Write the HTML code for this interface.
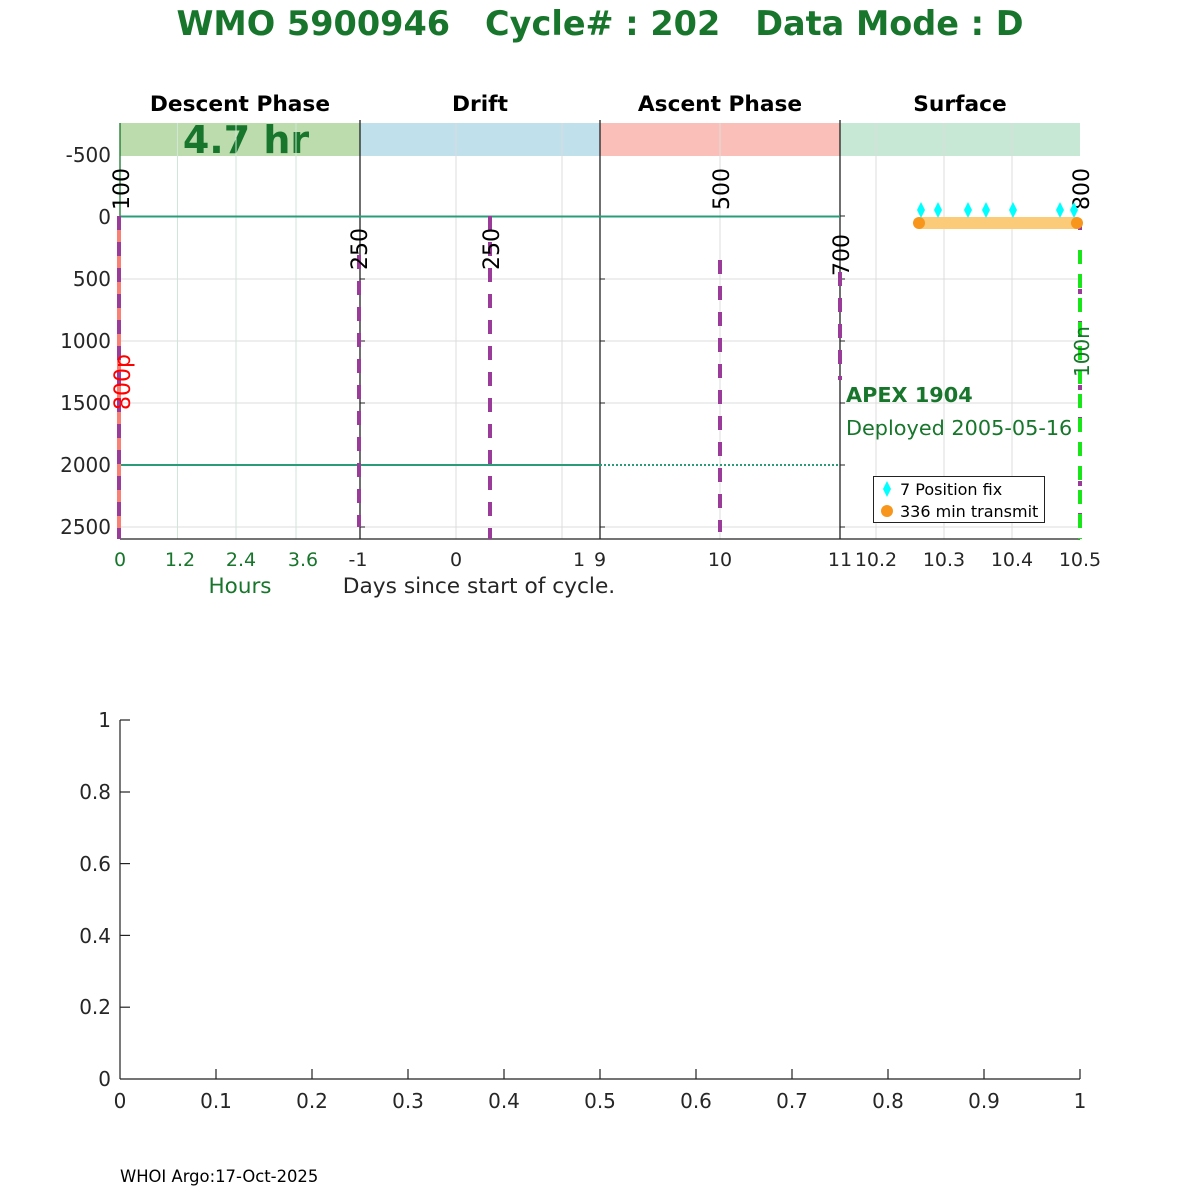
<!DOCTYPE html>
<html><head><meta charset="utf-8"><style>body{margin:0;background:#fff}svg{display:block}</style></head><body>
<svg width="1200" height="1200" xmlns="http://www.w3.org/2000/svg" font-family="DejaVu Sans, Liberation Sans, sans-serif">
<rect width="1200" height="1200" fill="#fff"/>
<text x="600" y="35" text-anchor="middle" font-size="33.5" font-weight="bold" fill="#17762b" xml:space="preserve">WMO 5900946   Cycle# : 202   Data Mode : D</text>
<g font-size="21.7" font-weight="bold" text-anchor="middle" fill="#000">
<text x="240" y="111">Descent Phase</text><text x="480" y="111">Drift</text><text x="720" y="111">Ascent Phase</text><text x="960" y="111">Surface</text></g>
<rect x="120" y="123" width="240" height="33" fill="#bcdcad"/>
<rect x="360" y="123" width="240" height="33" fill="#c0e1eb"/>
<rect x="600" y="123" width="240" height="33" fill="#fbbfb9"/>
<rect x="840" y="123" width="240" height="33" fill="#c8e8d6"/>
<text x="246" y="153" text-anchor="middle" font-size="38" font-weight="bold" fill="#17762b">4.7 hr</text>
<g stroke="#dcdcdc" stroke-width="1">
<line x1="120" y1="279" x2="1080" y2="279"/><line x1="120" y1="341" x2="1080" y2="341"/><line x1="120" y1="403" x2="1080" y2="403"/><line x1="120" y1="527" x2="1080" y2="527"/>
<line x1="177.5" y1="123" x2="177.5" y2="539" stroke="#cfe6d8"/><line x1="236" y1="123" x2="236" y2="539" stroke="#cfe6d8"/><line x1="296" y1="123" x2="296" y2="539" stroke="#cfe6d8"/>
<line x1="456" y1="123" x2="456" y2="539"/><line x1="562" y1="123" x2="562" y2="539"/>
<line x1="720" y1="123" x2="720" y2="539"/>
<line x1="876" y1="123" x2="876" y2="539"/><line x1="944" y1="123" x2="944" y2="539"/><line x1="1012" y1="123" x2="1012" y2="539"/>
</g>
<g stroke="#222" stroke-width="1.3">
<line x1="360" y1="120" x2="360" y2="539"/><line x1="600" y1="120" x2="600" y2="539"/><line x1="840" y1="120" x2="840" y2="539"/>
<line x1="120" y1="539" x2="1080" y2="539"/>
<line x1="120" y1="123" x2="120" y2="539" stroke="#17762b"/>
</g>
<g stroke="#222" stroke-width="1">
<line x1="360" y1="279" x2="365" y2="279"/><line x1="360" y1="341" x2="365" y2="341"/><line x1="360" y1="403" x2="365" y2="403"/><line x1="360" y1="527" x2="365" y2="527"/>
<line x1="600" y1="279" x2="605" y2="279"/><line x1="600" y1="341" x2="605" y2="341"/><line x1="600" y1="403" x2="605" y2="403"/><line x1="600" y1="527" x2="605" y2="527"/>
<line x1="840" y1="216" x2="845" y2="216"/><line x1="840" y1="279" x2="845" y2="279"/><line x1="840" y1="341" x2="845" y2="341"/><line x1="840" y1="403" x2="845" y2="403"/><line x1="840" y1="465" x2="845" y2="465"/><line x1="840" y1="527" x2="845" y2="527"/>
</g>
<g font-size="20" fill="#262626" text-anchor="end">
<text x="111" y="162">-500</text><text x="111" y="224">0</text><text x="111" y="286">500</text><text x="111" y="348">1000</text><text x="111" y="410">1500</text><text x="111" y="472">2000</text><text x="111" y="534">2500</text></g>
<g font-size="19" text-anchor="middle">
<g fill="#17762b"><text x="120" y="566">0</text><text x="180" y="566">1.2</text><text x="241" y="566">2.4</text><text x="303" y="566">3.6</text><text x="240" y="593" font-size="21.5">Hours</text></g>
<g fill="#262626"><text x="358" y="566">-1</text><text x="456" y="566">0</text><text x="579" y="566">1</text><text x="600" y="566">9</text><text x="720" y="566">10</text><text x="840" y="566">11</text><text x="876" y="566">10.2</text><text x="944" y="566">10.3</text><text x="1012" y="566">10.4</text><text x="1080" y="566">10.5</text>
<text x="479" y="593" font-size="21.7">Days since start of cycle.</text></g></g>
<line x1="120" y1="216.5" x2="840" y2="216.5" stroke="#2a9d78" stroke-width="2"/>
<line x1="120" y1="465" x2="600" y2="465" stroke="#2a9d78" stroke-width="2"/>
<line x1="600" y1="465" x2="840" y2="465" stroke="#2a9d78" stroke-width="2" stroke-dasharray="2,2"/>
<line x1="119" y1="216" x2="119" y2="539" stroke="#f98076" stroke-width="4"/>
<line x1="119" y1="216" x2="119" y2="539" stroke="#9a3a99" stroke-width="4" stroke-dasharray="14,12"/>
<line x1="359" y1="255" x2="359" y2="527" stroke="#9a3a99" stroke-width="4" stroke-dasharray="14,12"/>
<line x1="490" y1="216" x2="490" y2="539" stroke="#9a3a99" stroke-width="4" stroke-dasharray="14,12"/>
<line x1="720" y1="260" x2="720" y2="532" stroke="#9a3a99" stroke-width="4" stroke-dasharray="14,12"/>
<line x1="840" y1="272" x2="840" y2="380" stroke="#9a3a99" stroke-width="4" stroke-dasharray="14,12"/>
<line x1="1080" y1="225" x2="1080" y2="539" stroke="#9a3a99" stroke-width="4" stroke-dasharray="5,27"/>
<line x1="1080" y1="250" x2="1080" y2="539" stroke="#19e619" stroke-width="4" stroke-dasharray="14,10"/>
<g font-size="22" fill="#000">
<text transform="translate(129,210) rotate(-90)">100</text>
<text transform="translate(367,270) rotate(-90)">250</text>
<text transform="translate(499,270) rotate(-90)">250</text>
<text transform="translate(729,210) rotate(-90)">500</text>
<text transform="translate(849,276) rotate(-90)">700</text>
<text transform="translate(1089,210) rotate(-90)">800</text>
<text transform="translate(130,410) rotate(-90)" fill="#ff0000">800p</text>
<text transform="translate(1089,377) rotate(-90)" fill="#17762b" font-size="20">100n</text>
</g>
<line x1="919" y1="223" x2="1077" y2="223" stroke="#fbcb7a" stroke-width="12"/>
<circle cx="919" cy="223" r="6" fill="#f7961a"/><circle cx="1077" cy="223" r="6" fill="#f7961a"/>
<g fill="#00ffff">
<path d="M921 202l4 8-4 8-4-8z"/><path d="M938 202l4 8-4 8-4-8z"/><path d="M968 202l4 8-4 8-4-8z"/><path d="M986 202l4 8-4 8-4-8z"/><path d="M1013 202l4 8-4 8-4-8z"/><path d="M1060 202l4 8-4 8-4-8z"/><path d="M1074 202l4 8-4 8-4-8z"/></g>
<text x="846" y="402" font-size="20.8" font-weight="bold" fill="#17762b">APEX 1904</text>
<text x="846" y="435" font-size="20.8" fill="#17762b">Deployed 2005-05-16</text>
<rect x="873.5" y="476.5" width="171" height="46" fill="#fff" stroke="#222"/>
<path d="M887 481l4 8-4 8-4-8z" fill="#00ffff"/><circle cx="887" cy="511" r="6" fill="#f7961a"/>
<text x="900" y="495" font-size="16" fill="#000">7 Position fix</text>
<text x="900" y="517" font-size="16" fill="#000">336 min transmit</text>
<g stroke="#222" stroke-width="1.2">
<line x1="120" y1="720" x2="120" y2="1079"/><line x1="120" y1="1079" x2="1080" y2="1079"/>
<line x1="120" y1="720" x2="130" y2="720"/><line x1="120" y1="792" x2="130" y2="792"/><line x1="120" y1="863.6" x2="130" y2="863.6"/><line x1="120" y1="935.4" x2="130" y2="935.4"/><line x1="120" y1="1007.2" x2="130" y2="1007.2"/>
<line x1="216" y1="1079" x2="216" y2="1069"/><line x1="312" y1="1079" x2="312" y2="1069"/><line x1="408" y1="1079" x2="408" y2="1069"/><line x1="504" y1="1079" x2="504" y2="1069"/><line x1="600" y1="1079" x2="600" y2="1069"/><line x1="696" y1="1079" x2="696" y2="1069"/><line x1="792" y1="1079" x2="792" y2="1069"/><line x1="888" y1="1079" x2="888" y2="1069"/><line x1="984" y1="1079" x2="984" y2="1069"/><line x1="1080" y1="1079" x2="1080" y2="1069"/>
</g>
<g font-size="20" fill="#262626" text-anchor="end">
<text x="111" y="727">1</text><text x="111" y="799">0.8</text><text x="111" y="871">0.6</text><text x="111" y="943">0.4</text><text x="111" y="1014">0.2</text><text x="111" y="1086">0</text></g>
<g font-size="20" fill="#262626" text-anchor="middle">
<text x="120" y="1108">0</text><text x="216" y="1108">0.1</text><text x="312" y="1108">0.2</text><text x="408" y="1108">0.3</text><text x="504" y="1108">0.4</text><text x="600" y="1108">0.5</text><text x="696" y="1108">0.6</text><text x="792" y="1108">0.7</text><text x="888" y="1108">0.8</text><text x="984" y="1108">0.9</text><text x="1080" y="1108">1</text></g>
<text x="120" y="1182" font-size="16.4" fill="#000">WHOI Argo:17-Oct-2025</text>
</svg>
</body></html>
